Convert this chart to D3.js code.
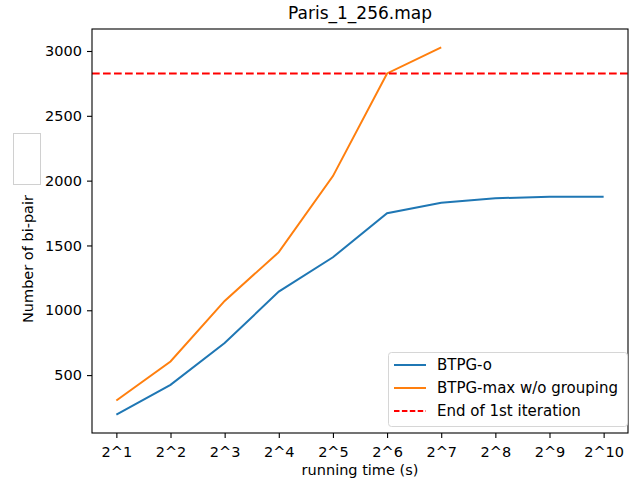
<!DOCTYPE html>
<html>
<head>
<meta charset="utf-8">
<script src="https://cdn.jsdelivr.net/npm/d3@7"></script>
<style>
  body { margin: 0; background: #fff; }
  svg text { font-family: "DejaVu Sans", sans-serif; fill: #000; }
</style>
</head>
<body>
<svg id="chart" width="644" height="483"></svg>
<script>
const width = 644
const height = 483
const margin = {top: 29, right: 16, bottom: 50, left: 92}

// data
const timeLabels = ['2^1', '2^2', '2^3', '2^4', '2^5', '2^6', '2^7', '2^8', '2^9', '2^10']
const btpgO = [195, 425, 747, 1144, 1409, 1748, 1830, 1864, 1876, 1876]
const btpgMax = [304, 605, 1072, 1448, 2035, 2827, 3028]
const firstIteration = 2827
const yTicks = [500, 1000, 1500, 2000, 2500, 3000]

const series = [
  {name: 'BTPG-o', values: btpgO, color: '#1f77b4'},
  {name: 'BTPG-max w/o grouping', values: btpgMax, color: '#ff7f0e'}
]

const svg = d3.select('svg#chart')

const x = d3.scalePoint()
  .domain(timeLabels)
  .range([margin.left, width - margin.right])
  .padding(0.45)

const allVals = btpgO.concat(btpgMax)
const yMin = d3.min(allVals), yMax = d3.max(allVals)
const pad = (yMax - yMin) * 0.05
const y = d3.scaleLinear()
  .domain([yMin - pad, yMax + pad])
  .range([height - margin.bottom, margin.top])

// axes
const xAxis = svg.append('g')
  .attr('transform', `translate(0, ${height - margin.bottom})`)
  .call(d3.axisBottom(x).tickSize(5).tickPadding(5))
const yAxis = svg.append('g')
  .attr('transform', `translate(${margin.left}, 0)`)
  .call(d3.axisLeft(y).tickValues(yTicks).tickFormat(d3.format('d')).tickSize(5).tickPadding(5))

for (const ax of [xAxis, yAxis]) {
  ax.select('.domain').remove()
  ax.selectAll('line').attr('stroke', '#000').attr('stroke-width', 1.1)
  ax.selectAll('text').style('font-size', '14.5px').style('font-family', '"DejaVu Sans", sans-serif')
}
xAxis.selectAll('text').attr('dy', '0.95em')

// lines
const line = d3.line()
  .x((d, i) => x(timeLabels[i]))
  .y(d => y(d))

svg.selectAll('path.series').data(series).enter().append('path')
  .attr('class', 'series')
  .attr('d', d => line(d.values))
  .attr('fill', 'none')
  .attr('stroke', d => d.color)
  .attr('stroke-width', 2)

svg.append('line')
  .attr('x1', margin.left)
  .attr('x2', width - margin.right)
  .attr('y1', y(firstIteration))
  .attr('y2', y(firstIteration))
  .attr('stroke', 'red')
  .attr('stroke-width', 2)
  .attr('stroke-dasharray', '7.7,3.3')

// frame
svg.append('rect')
  .attr('x', margin.left)
  .attr('y', margin.top)
  .attr('width', width - margin.left - margin.right)
  .attr('height', height - margin.top - margin.bottom)
  .attr('fill', 'none')
  .attr('stroke', '#000')
  .attr('stroke-width', 1.1)

// titles
svg.append('text')
  .attr('x', (margin.left + width - margin.right) / 2)
  .attr('y', 19)
  .attr('text-anchor', 'middle')
  .style('font-size', '17px')
  .text('Paris_1_256.map')

svg.append('text')
  .attr('x', (margin.left + width - margin.right) / 2)
  .attr('y', 475)
  .attr('text-anchor', 'middle')
  .style('font-size', '14.5px')
  .text('running time (s)')

svg.append('text')
  .attr('transform', 'translate(33, 323) rotate(-90)')
  .attr('text-anchor', 'start')
  .style('font-size', '14.5px')
  .text('Number of bi-pair')

// blank box next to the y label
svg.append('rect')
  .attr('x', 13.5)
  .attr('y', 133.5)
  .attr('width', 27)
  .attr('height', 51)
  .attr('fill', '#fff')
  .attr('stroke', '#d0d0d0')
  .attr('stroke-width', 1)

// legend
const legendItems = [
  {name: 'BTPG-o', color: '#1f77b4', dash: null},
  {name: 'BTPG-max w/o grouping', color: '#ff7f0e', dash: null},
  {name: 'End of 1st iteration', color: 'red', dash: '5.5,2.4'}
]
const legend = svg.append('g').attr('transform', 'translate(388, 352)')
legend.append('rect')
  .attr('x', 0.5).attr('y', 0.5)
  .attr('width', 239).attr('height', 74)
  .attr('rx', 3)
  .attr('fill', 'rgba(255,255,255,0.8)')
  .attr('stroke', '#d6d6d6')
const rows = legend.selectAll('g.row').data(legendItems).enter().append('g')
  .attr('class', 'row')
  .attr('transform', (d, i) => `translate(0, ${13 + i * 23})`)
rows.append('line')
  .attr('x1', 6).attr('x2', 38)
  .attr('stroke', d => d.color)
  .attr('stroke-width', 2)
  .attr('stroke-dasharray', d => d.dash)
rows.append('text')
  .attr('x', 49)
  .attr('dy', '0.35em')
  .style('font-size', '15px')
  .text(d => d.name)
</script>
</body>
</html>
